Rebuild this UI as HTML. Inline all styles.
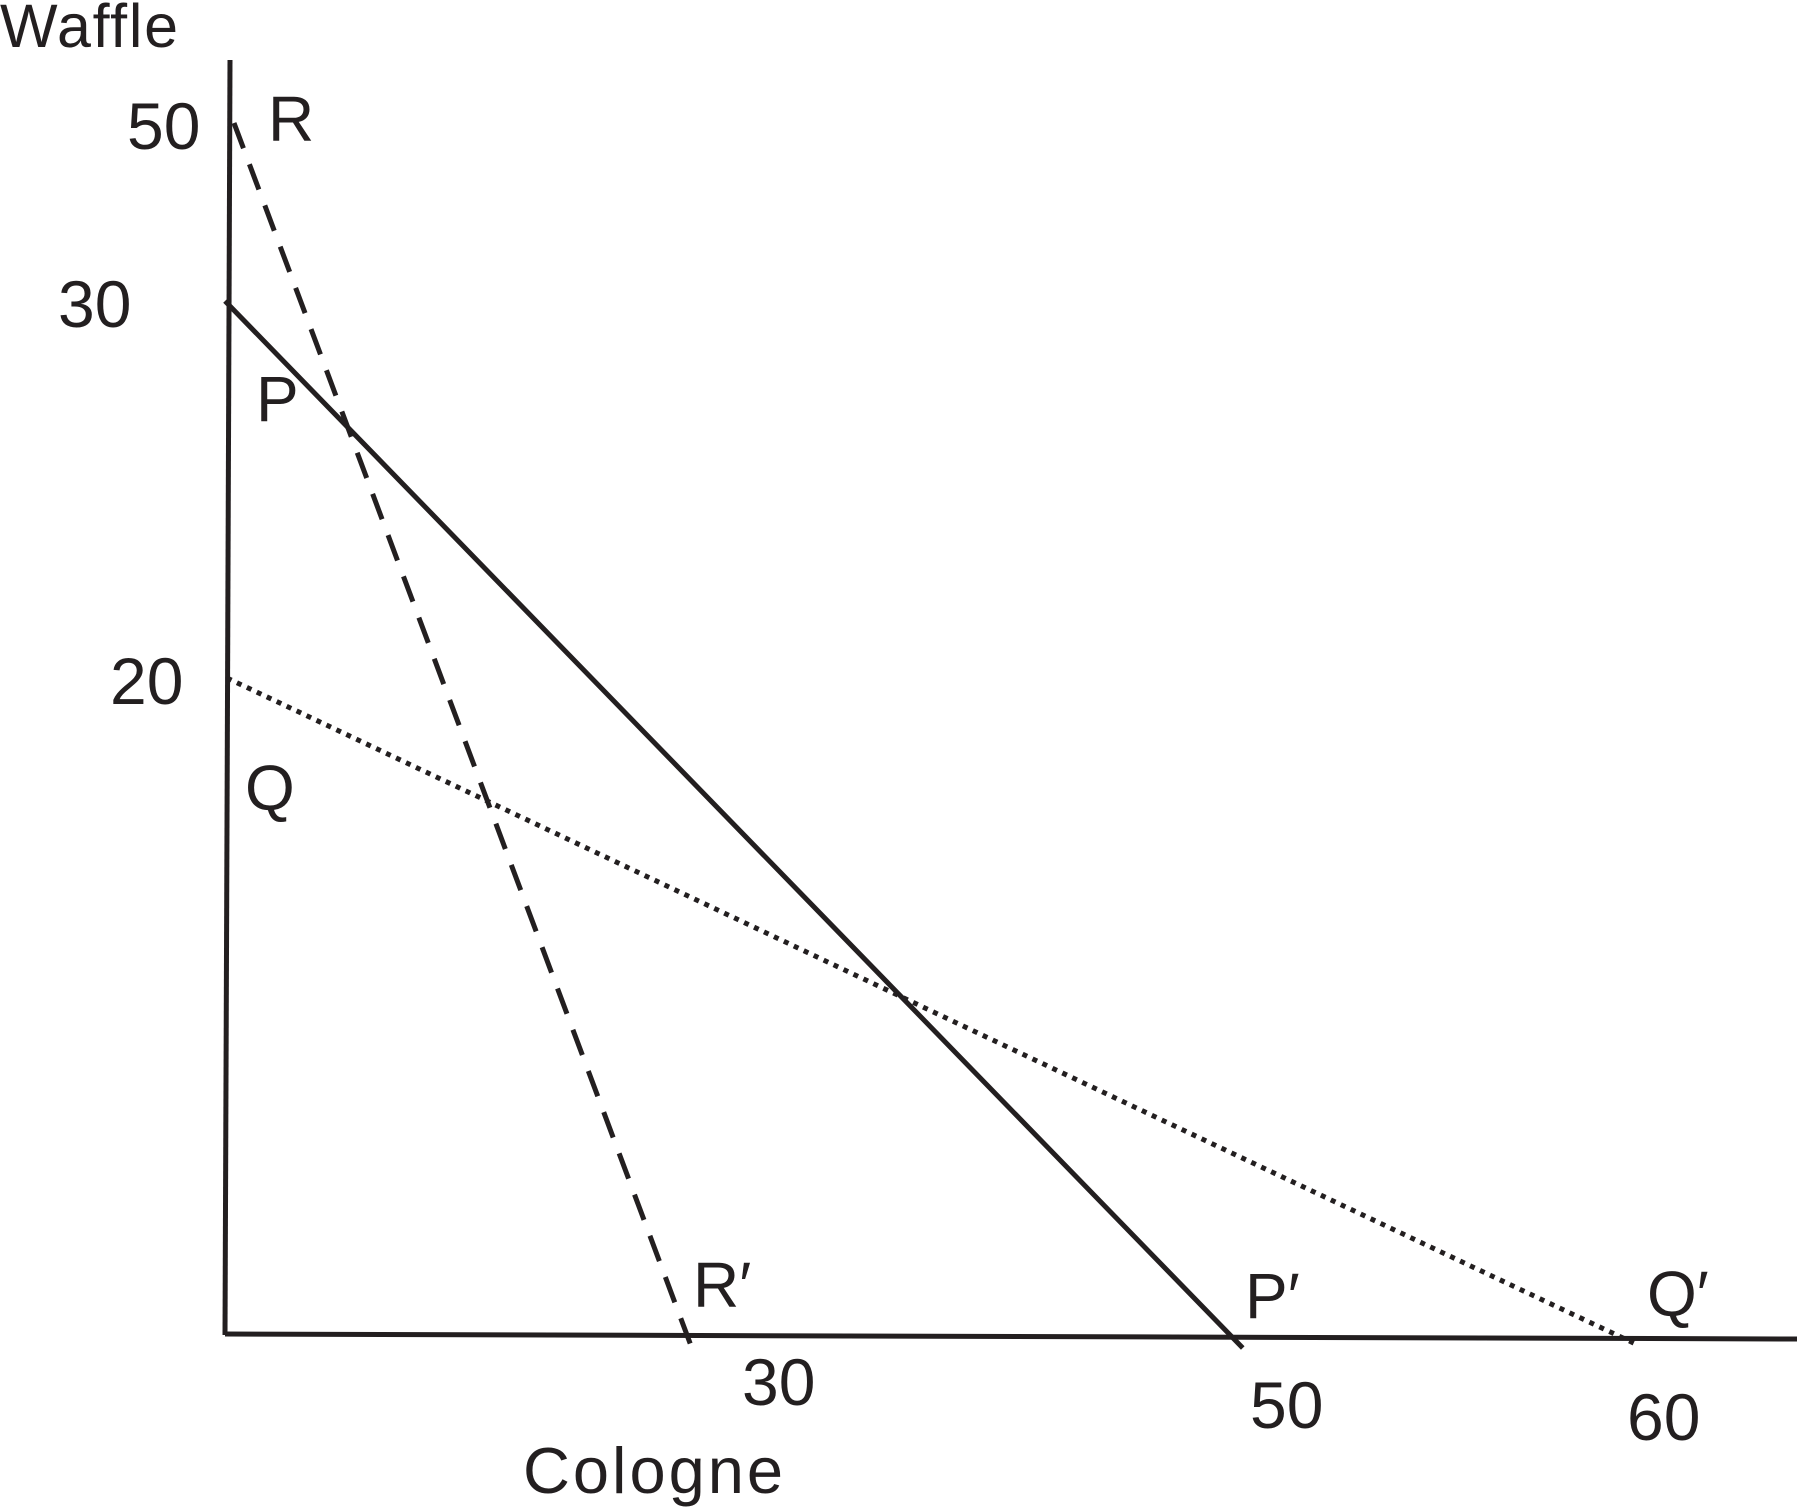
<!DOCTYPE html>
<html><head><meta charset="utf-8"><style>
html,body{margin:0;padding:0;background:#fff;}
svg{display:block;}
text{font-family:"Liberation Sans",sans-serif;fill:#231f20;}
</style></head><body>
<svg id="chart" width="1797" height="1512" viewBox="0 0 1797 1512" xmlns="http://www.w3.org/2000/svg">
<line x1="230" y1="60" x2="225" y2="1335" stroke="#231f20" stroke-width="5"/>
<line x1="225" y1="1334" x2="1797" y2="1339" stroke="#231f20" stroke-width="5"/>
<text x="0" y="47" font-size="61" textLength="178">Waffle</text>
<text x="523" y="1493" font-size="65" textLength="260">Cologne</text>
<g id="marks"></g>
</svg>
<script>
const lineNames = ['R', 'P', 'Q'];
const lineYIntercepts = [50, 30, 20];
const lineXIntercepts = [30, 50, 60];
const lineDash = ['27 17', 'none', '5 6'];
const yTickLabels = [50, 30, 20];
const xTickLabels = [30, 50, 60];

function xScale(v){const d=[0,30,50,60],r=[225,687,1233,1623];return piece(v,d,r);}
function yScale(v){const d=[0,20,30,50],r=[1335,678,301,123];return piece(v,d,r);}
function piece(v,d,r){for(let i=0;i<d.length-1;i++){if(v<=d[i+1]||i===d.length-2){const t=(v-d[i])/(d[i+1]-d[i]);return r[i]+t*(r[i+1]-r[i]);}}}

const NS='http://www.w3.org/2000/svg';
const g=document.getElementById('marks');
function txt(s,x,y,size){const t=document.createElementNS(NS,'text');t.setAttribute('x',x);t.setAttribute('y',y);t.setAttribute('font-size',size);t.textContent=s;g.appendChild(t);return t;}

const labelOffsets={R:[[34,18],[6,-28]],P:[[31,120],[12,-20]],Q:[[18,132],[24,-22]]};
const xStartShift=[9,0,2];
const overshoot=[22,14,14];
lineNames.forEach((n,i)=>{
  const x1=xScale(0)+xStartShift[i], y1=yScale(lineYIntercepts[i]);
  const x2=xScale(lineXIntercepts[i]), y2=yScale(0)+(i===0?0:3);
  const len=Math.hypot(x2-x1,y2-y1), ux=(x2-x1)/len, uy=(y2-y1)/len;
  const l=document.createElementNS(NS,'line');
  
  
  l.setAttribute('x1',x1);l.setAttribute('y1',y1);
  l.setAttribute('x2',x2+ux*overshoot[i]);l.setAttribute('y2',y2+uy*overshoot[i]);
  l.setAttribute('stroke','#231f20');l.setAttribute('stroke-width','5');
  if(lineDash[i]!=='none')l.setAttribute('stroke-dasharray',lineDash[i]);
  g.appendChild(l);
  const o=labelOffsets[n];
  const a=txt(n,x1+o[0][0],y1+o[0][1],64);
  
  
  const b=txt(n+'\u2032',x2+o[1][0],y2+o[1][1],64);
  
  
});
const yLabelX={50:127,30:58,20:110};
yTickLabels.forEach(v=>{
  const t=txt(String(v),yLabelX[v],yScale(v)+26,66);
  
  
});
const xLabelDx={30:55,50:17,60:4};
const xLabelY={30:1405,50:1428,60:1440};
xTickLabels.forEach(v=>{
  const t=txt(String(v),xScale(v)+xLabelDx[v],xLabelY[v],66);
  
  
});
</script>
</body></html>
